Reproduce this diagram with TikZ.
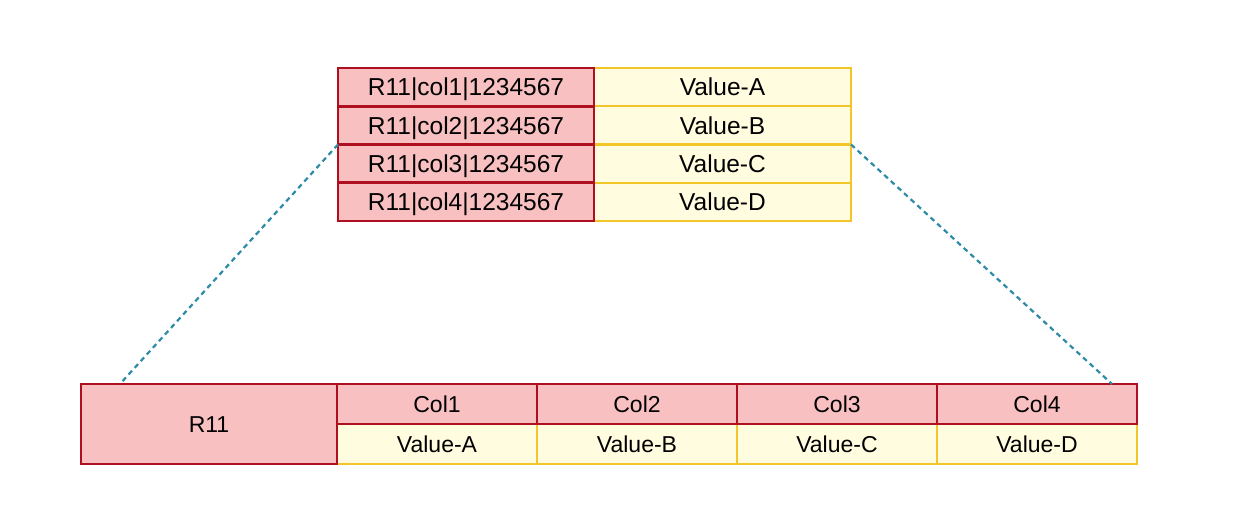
\documentclass[tikz,border=0pt]{standalone}
\usepackage{fontspec}
\setmainfont{Liberation Sans}
\usetikzlibrary{calc}
\definecolor{redfill}{HTML}{F8C0C0}
\definecolor{redline}{HTML}{AE1020}
\definecolor{yelfill}{HTML}{FFFCE0}
\definecolor{yelline}{HTML}{F2C628}
\definecolor{dashcol}{HTML}{2E8BA8}
\begin{document}
\begin{tikzpicture}[x=1pt,y=-1pt,
  cell/.style={rectangle,inner sep=0pt,outer sep=0pt,text=black,text depth=0pt},
  topfont/.style={font=\fontsize{24.5}{28}\selectfont,text height=17.5pt},
  botfont/.style={font=\fontsize{23}{27}\selectfont,text height=16.5pt},
  keycell/.style={cell,topfont,fill=redfill,draw=redline,line width=2.8pt,minimum width=256pt,minimum height=38.25pt},
  valcell/.style={cell,topfont,fill=yelfill,draw=yelline,line width=2.2pt,minimum width=257pt,minimum height=38.25pt},
  rowcell/.style={cell,botfont,fill=redfill,draw=redline,line width=2.8pt,minimum width=256pt,minimum height=80pt},
  colcell/.style={cell,botfont,fill=redfill,draw=redline,line width=2.8pt,minimum width=200pt,minimum height=40pt},
  bvalcell/.style={cell,botfont,fill=yelfill,draw=yelline,line width=2.2pt,minimum width=200pt,minimum height=40pt},
  link/.style={draw=dashcol,line width=2.2pt,dash pattern=on 5pt off 4pt}]
\useasboundingbox[fill=white] (0,0) rectangle (1246,515);
% top table: values first, then keys
\node[valcell] (v1) at (722.5,87.1) {Value-A};
\node[valcell] (v2) at (722.5,125.4) {Value-B};
\node[valcell] (v3) at (722.5,163.6) {Value-C};
\node[valcell] (v4) at (722.5,201.9) {Value-D};
\node[keycell] (k1) at (466,87.1) {R11|col1|1234567};
\node[keycell] (k2) at (466,125.4) {R11|col2|1234567};
\node[keycell] (k3) at (466,163.6) {R11|col3|1234567};
\node[keycell] (k4) at (466,201.9) {R11|col4|1234567};
% bottom table
\node[bvalcell] (w1) at (437,444) {Value-A};
\node[bvalcell] (w2) at (637,444) {Value-B};
\node[bvalcell] (w3) at (837,444) {Value-C};
\node[bvalcell] (w4) at (1037,444) {Value-D};
\node[colcell] (c1) at (437,404) {Col1};
\node[colcell] (c2) at (637,404) {Col2};
\node[colcell] (c3) at (837,404) {Col3};
\node[colcell] (c4) at (1037,404) {Col4};
\node[rowcell] (r11) at (209,424) {R11};
% connectors
\coordinate (la) at ($(r11.north west)!0.152!(r11.north east)$);
\coordinate (ra) at ($(c4.north west)!0.875!(c4.north east)$);
\draw[link] (k3.north west) -- (la);
\draw[link] (v3.north east) -- (ra);
\end{tikzpicture}
\end{document}
